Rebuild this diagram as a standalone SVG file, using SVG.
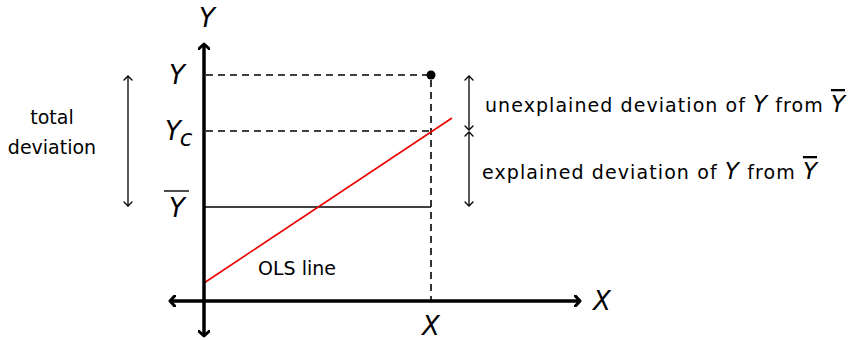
<svg xmlns="http://www.w3.org/2000/svg" width="849" height="341" viewBox="0 0 849 341">
<style>
.t{font-family:"DejaVu Sans","Liberation Sans",sans-serif;font-size:19px;fill:#000}
.m{font-family:"DejaVu Sans","Liberation Sans",sans-serif;font-style:italic;font-size:26px;fill:#000}
.mi{font-family:"DejaVu Sans","Liberation Sans",sans-serif;font-style:italic;font-size:23px;fill:#000}
.ov{text-decoration:overline}
.ax{stroke:#000;stroke-width:3.5;fill:none}
.dash{stroke:#000;stroke-width:1.6;stroke-dasharray:7,5;fill:none}
.thin{stroke:#000;stroke-width:1.3;fill:none}
</style>
<defs>
<marker id="big" viewBox="-6 -6 8 12" markerWidth="8" markerHeight="12" refX="0" refY="0" orient="auto-start-reverse" markerUnits="userSpaceOnUse">
<path d="M-5,-5.5 L0,0 L-5,5.5" stroke="#000" stroke-width="3" fill="none" stroke-linecap="round" stroke-linejoin="round"/>
</marker>
<marker id="sm" viewBox="-6 -5 8 10" markerWidth="8" markerHeight="10" refX="0" refY="0" orient="auto-start-reverse" markerUnits="userSpaceOnUse">
<path d="M-4,-4 L0,0 L-4,4" stroke="#000" stroke-width="1.3" fill="none" stroke-linecap="round"/>
</marker>
</defs>
<g id="connectors">
<line class="dash" x1="206" y1="75" x2="431" y2="75"/>
<line class="dash" x1="206" y1="131" x2="431" y2="131"/>
<line class="dash" x1="431" y1="80" x2="431" y2="300"/>
<line x1="204" y1="207" x2="431" y2="207" stroke="#000" stroke-width="1.3"/>
<line x1="204" y1="283" x2="452" y2="118" stroke="#e00" stroke-width="1.6"/>
<line class="ax" x1="204" y1="44" x2="204" y2="336" marker-start="url(#big)" marker-end="url(#big)"/>
<line class="ax" x1="170" y1="301" x2="580" y2="301" marker-start="url(#big)" marker-end="url(#big)"/>
<line class="thin" x1="469" y1="76" x2="469" y2="130" marker-start="url(#sm)" marker-end="url(#sm)"/>
<line class="thin" x1="469" y1="132" x2="469" y2="206" marker-start="url(#sm)" marker-end="url(#sm)"/>
<line class="thin" x1="128" y1="76" x2="128" y2="206" marker-start="url(#sm)" marker-end="url(#sm)"/>
</g>
<g id="point"><circle cx="431" cy="75" r="4.5" fill="#000"/></g>
<g id="labels">
<text class="m" x="207" y="27" text-anchor="middle">Y</text>
<text class="m" x="177" y="84" text-anchor="middle">Y</text>
<text class="m" x="173" y="140" text-anchor="middle">Y</text>
<text class="mi" x="186" y="146" text-anchor="middle" font-size="19">c</text>
<text class="m" x="177" y="217" text-anchor="middle">Y</text>
<line x1="164" y1="191" x2="189" y2="191" stroke="#000" stroke-width="1.4"/>
<text class="m" x="602" y="310" text-anchor="middle">X</text>
<text class="m" x="431" y="335" text-anchor="middle">X</text>
<text class="t" x="258" y="275" font-size="20.5">OLS line</text>
<text class="t" x="52" y="124" text-anchor="middle">total</text>
<text class="t" x="52" y="154" text-anchor="middle">deviation</text>
<text class="t" x="485" y="112" textLength="360" lengthAdjust="spacing">unexplained deviation of <tspan class="mi">Y</tspan> from <tspan class="mi ov">Y</tspan></text>
<text class="t" x="482" y="179" textLength="335" lengthAdjust="spacing">explained deviation of <tspan class="mi">Y</tspan> from <tspan class="mi ov">Y</tspan></text>
</g>
</svg>
